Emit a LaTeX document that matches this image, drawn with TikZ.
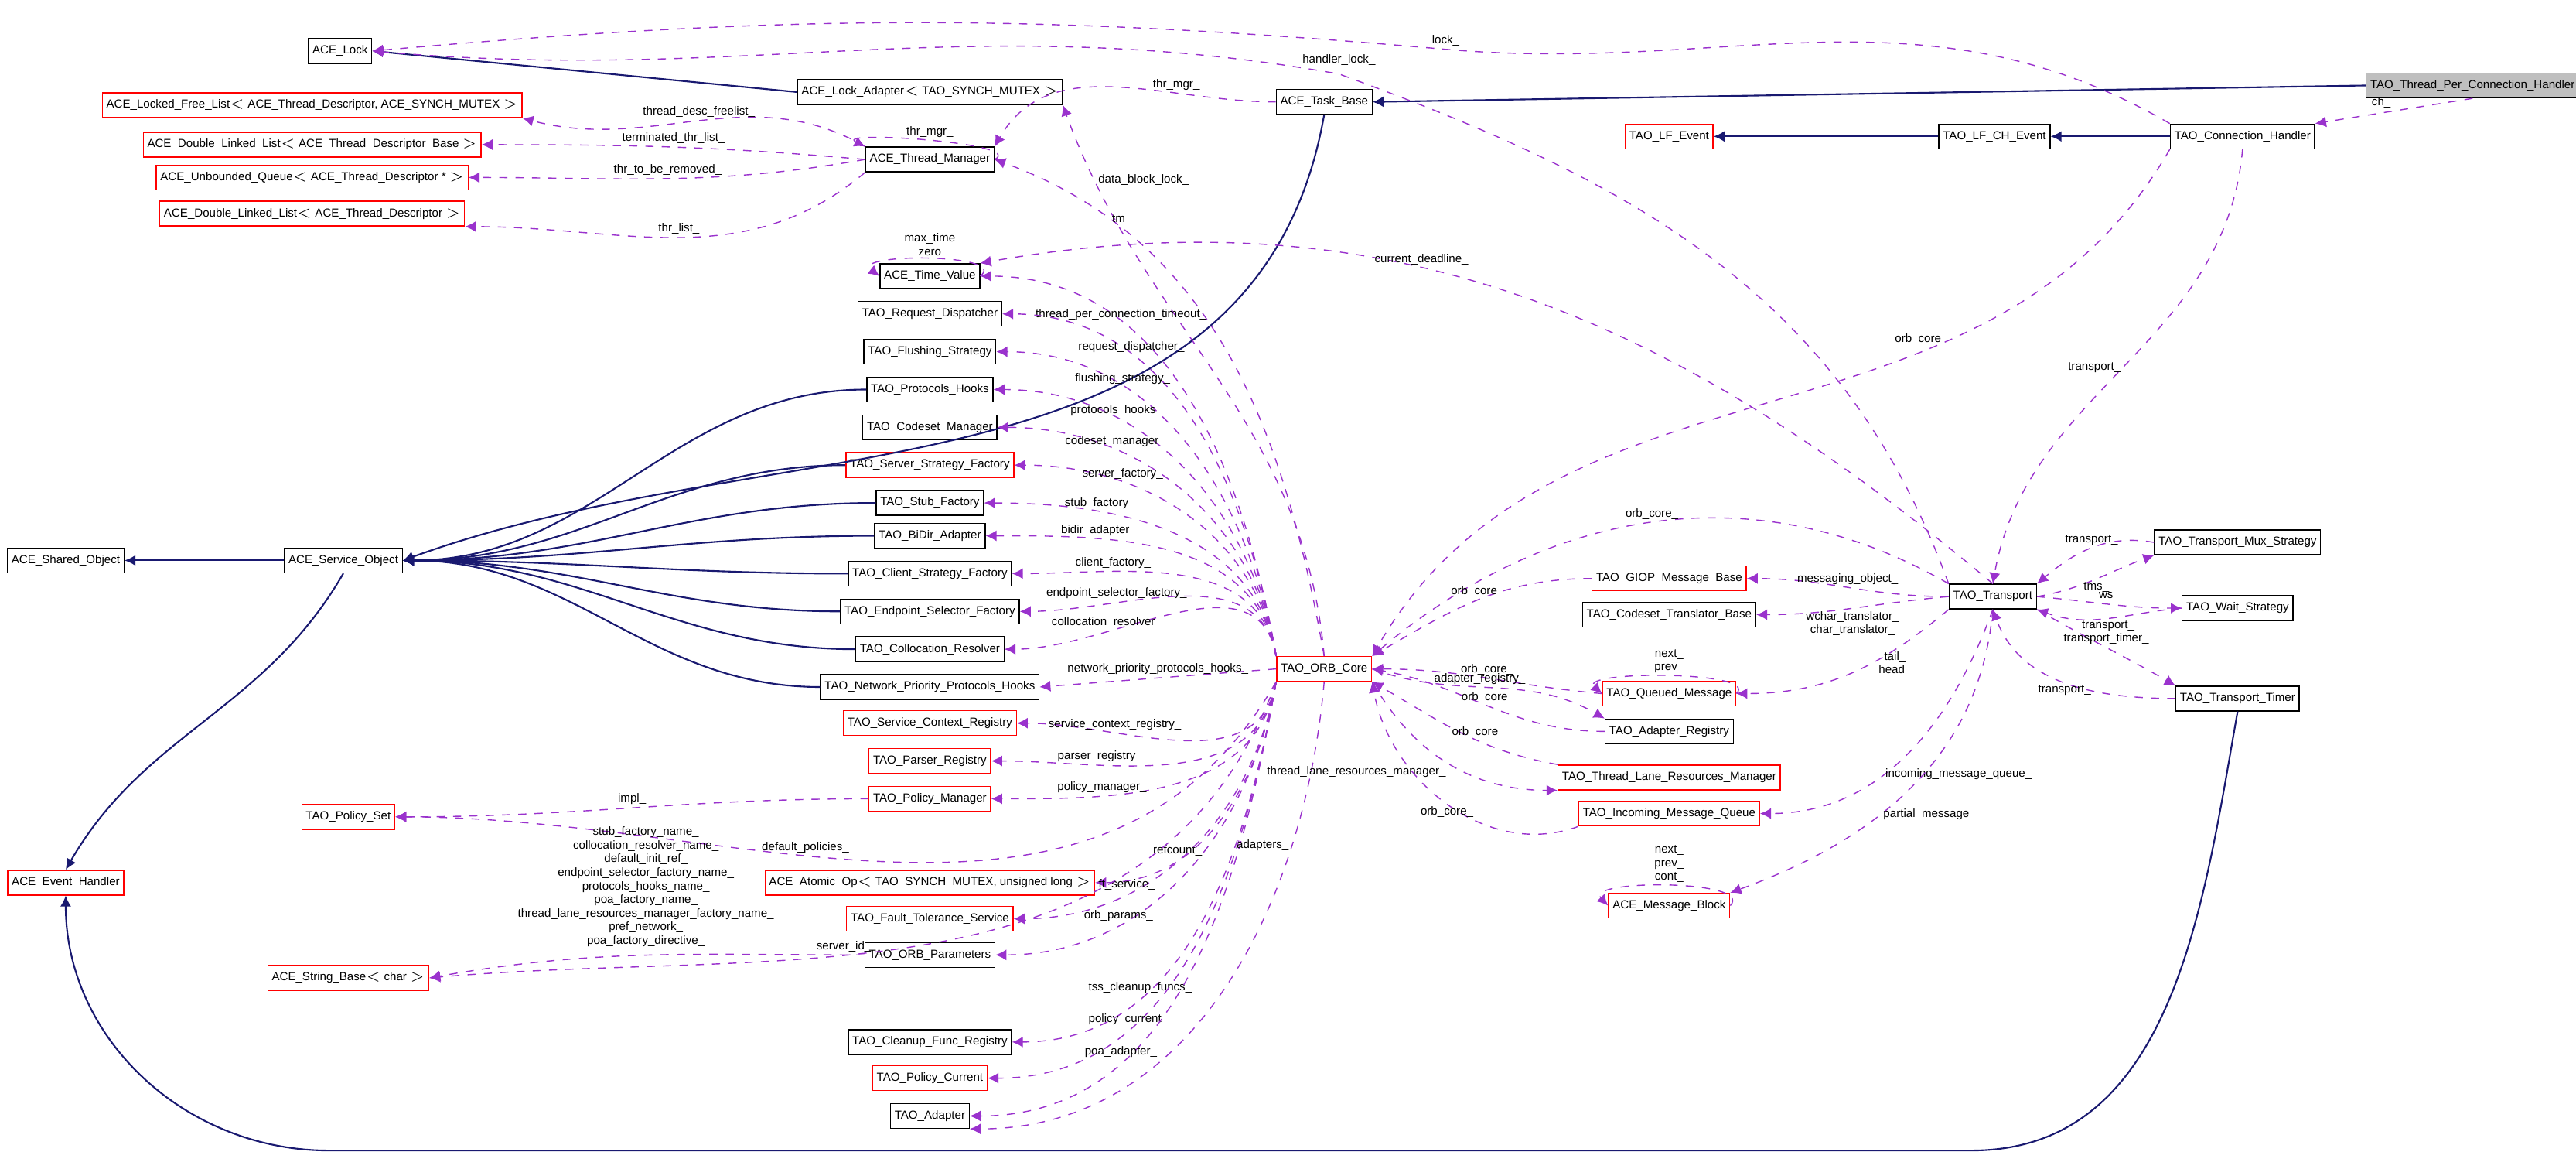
\documentclass[tikz,border=0pt]{standalone}
\usepackage{fontspec}
\setmainfont{Liberation Sans}
\usetikzlibrary{arrows.meta}
\definecolor{inh}{HTML}{191970}
\definecolor{usecol}{HTML}{9A32CD}
\tikzset{
  cls/.style={draw=black, fill=white, inner sep=1.5pt, minimum height=0.32cm, font=\fontsize{4.3}{5}\selectfont},
  redcls/.style={cls, draw=red},
  inherit/.style={draw=inh, -{Latex[length=4pt,width=4pt]}, semithick},
  uses/.style={draw=usecol, dashed, -{Latex[length=4pt,width=4pt]}},
  lbl/.style={font=\fontsize{4.3}{5}\selectfont, align=center, inner sep=1pt, fill=none}
}
\begin{document}
\begin{tikzpicture}[x=0.02124cm, y=-0.02124cm]
\useasboundingbox (0,0) rectangle (1568,711);
% top row
\node[cls, fill=black!25] (tpch) at (1505,52) {TAO\_Thread\_Per\_Connection\_Handler};
\node[cls] (taskbase) at (806,62) {ACE\_Task\_Base};
\node[cls] (lock) at (207,31) {ACE\_Lock};
\node[cls] (lockad) at (566,56) {ACE\_Lock\_Adapter$<$ TAO\_SYNCH\_MUTEX $>$};
\node[redcls] (lfl) at (190,64) {ACE\_Locked\_Free\_List$<$ ACE\_Thread\_Descriptor, ACE\_SYNCH\_MUTEX $>$};
\node[redcls] (dllb) at (190,88) {ACE\_Double\_Linked\_List$<$ ACE\_Thread\_Descriptor\_Base $>$};
\node[redcls] (uq) at (190,108) {ACE\_Unbounded\_Queue$<$ ACE\_Thread\_Descriptor * $>$};
\node[redcls] (dll) at (190,130) {ACE\_Double\_Linked\_List$<$ ACE\_Thread\_Descriptor $>$};
\node[cls] (thrmgr) at (566,97) {ACE\_Thread\_Manager};
\node[redcls] (lfev) at (1016,83) {TAO\_LF\_Event};
\node[cls] (lfch) at (1214,83) {TAO\_LF\_CH\_Event};
\node[cls] (conn) at (1365,83) {TAO\_Connection\_Handler};
% middle column
\node[cls] (timev) at (566,168) {ACE\_Time\_Value};
\node[cls] (reqd) at (566,191) {TAO\_Request\_Dispatcher};
\node[cls] (flush) at (566,214) {TAO\_Flushing\_Strategy};
\node[cls] (phooks) at (566,237) {TAO\_Protocols\_Hooks};
\node[cls] (codeset) at (566,260) {TAO\_Codeset\_Manager};
\node[redcls] (ssf) at (566,283) {TAO\_Server\_Strategy\_Factory};
\node[cls] (stub) at (566,306) {TAO\_Stub\_Factory};
\node[cls] (bidir) at (566,326) {TAO\_BiDir\_Adapter};
\node[cls] (csf) at (566,349) {TAO\_Client\_Strategy\_Factory};
\node[cls] (esf) at (566,372) {TAO\_Endpoint\_Selector\_Factory};
\node[cls] (coll) at (566,395) {TAO\_Collocation\_Resolver};
\node[cls] (nphooks) at (566,418) {TAO\_Network\_Priority\_Protocols\_Hooks};
\node[redcls] (scr) at (566,440) {TAO\_Service\_Context\_Registry};
\node[redcls] (parser) at (566,463) {TAO\_Parser\_Registry};
\node[redcls] (polmgr) at (566,486) {TAO\_Policy\_Manager};
\node[redcls] (atomic) at (566,537) {ACE\_Atomic\_Op$<$ TAO\_SYNCH\_MUTEX, unsigned long $>$};
\node[redcls] (ft) at (566,559) {TAO\_Fault\_Tolerance\_Service};
\node[cls] (orbp) at (566,581) {TAO\_ORB\_Parameters};
\node[cls] (cleanup) at (566,634) {TAO\_Cleanup\_Func\_Registry};
\node[redcls] (polcur) at (566,656) {TAO\_Policy\_Current};
\node[cls] (adapter) at (566,679) {TAO\_Adapter};
% left column
\node[redcls] (polset) at (212,497) {TAO\_Policy\_Set};
\node[redcls] (strb) at (212,595) {ACE\_String\_Base$<$ char $>$};
\node[cls] (shared) at (40,341) {ACE\_Shared\_Object};
\node[cls] (svcobj) at (209,341) {ACE\_Service\_Object};
\node[redcls] (evh) at (40,537) {ACE\_Event\_Handler};
% core and right part
\node[redcls] (core) at (806,407) {TAO\_ORB\_Core};
\node[redcls] (giop) at (1016,352) {TAO\_GIOP\_Message\_Base};
\node[cls] (cstb) at (1016,374) {TAO\_Codeset\_Translator\_Base};
\node[redcls] (qmsg) at (1016,422) {TAO\_Queued\_Message};
\node[cls] (areg) at (1016,445) {TAO\_Adapter\_Registry};
\node[redcls] (tlrm) at (1016,473) {TAO\_Thread\_Lane\_Resources\_Manager};
\node[redcls] (imq) at (1016,495) {TAO\_Incoming\_Message\_Queue};
\node[redcls] (mblk) at (1016,551) {ACE\_Message\_Block};
\node[cls] (trans) at (1213,363) {TAO\_Transport};
\node[cls] (tms) at (1362,330) {TAO\_Transport\_Mux\_Strategy};
\node[cls] (wait) at (1362,370) {TAO\_Wait\_Strategy};
\node[cls] (timer) at (1362,425) {TAO\_Transport\_Timer};
\coordinate (lockbend) at (880,30);
\coordinate (hlockbend) at (815,45);

% inheritance
\draw[inherit] (tpch.west) -- (taskbase.east);
\draw[inherit] (lockad.west) -- (lock.east);
\draw[inherit] (taskbase.south) to[out=260,in=20] (svcobj.east);
\foreach \c in {phooks,ssf,stub,bidir,csf,esf,coll,nphooks}
  \draw[inherit] (\c.west) to[out=180,in=0] (svcobj.east);
\draw[inherit] (svcobj.west) -- (shared.east);
\draw[inherit] (svcobj.south) to[out=240,in=60] (evh.north);
\draw[inherit] (lfch.west) -- (lfev.east);
\draw[inherit] (conn.west) -- (lfch.east);
\draw[inherit] (timer.south) to[out=260,in=0] (1200,700) -- (200,700) to[out=180,in=270] (evh.south);

% usage: top
\draw[uses] (tpch.south) -- node[lbl, above left] {ch\_} (conn.north east);
\draw[uses] (conn.north west) to[out=150,in=-5] (lockbend) node[lbl, above] {lock\_} to[out=175,in=5] (lock.east);
\draw[uses] (trans.north west) to[out=110,in=-20] (hlockbend) node[lbl, above=2pt] {handler\_lock\_} to[out=170,in=-5] (lock.east);
\draw[uses] (core.north) to[out=95,in=-70] node[lbl, pos=0.88, right] {data\_block\_lock\_} (lockad.south east);
\draw[uses] (taskbase.west) to[out=180,in=60] node[lbl, pos=0.3, above] {thr\_mgr\_} (thrmgr.north east);
\draw[uses] (thrmgr.east) .. controls +(20,-10) and +(-20,-10) .. node[lbl, above] {thr\_mgr\_} (thrmgr.north west);
\draw[uses] (thrmgr.north west) to[out=150,in=-15] node[lbl, pos=0.5, above] {thread\_desc\_freelist\_} (lfl.south east);
\draw[uses] (thrmgr.west) to[out=175,in=0] node[lbl, pos=0.5, above] {terminated\_thr\_list\_} (dllb.east);
\draw[uses] (thrmgr.west) to[out=190,in=0] node[lbl, pos=0.5, above] {thr\_to\_be\_removed\_} (uq.east);
\draw[uses] (thrmgr.south west) to[out=220,in=0] node[lbl, pos=0.5, above] {thr\_list\_} (dll.south east);
\draw[uses] (core.north) to[out=100,in=-20] node[lbl, pos=0.8, right] {tm\_} (thrmgr.east);
\draw[uses] (timev.east) .. controls +(18,-14) and +(-18,-14) .. node[lbl, above] {max\_time\\zero} (timev.west);
\draw[uses] (trans.north) to[out=140,in=10] node[lbl, pos=0.6, above] {current\_deadline\_} (timev.north east);

% usage: ORB core members
\foreach \t/\l in {timev/thread\_per\_connection\_timeout\_, reqd/request\_dispatcher\_, flush/flushing\_strategy\_,
  phooks/protocols\_hooks\_, codeset/codeset\_manager\_, ssf/server\_factory\_, stub/stub\_factory\_,
  bidir/bidir\_adapter\_, csf/client\_factory\_, esf/endpoint\_selector\_factory\_, coll/collocation\_resolver\_}
  \draw[uses] (core.north west) to[out=100,in=0] node[lbl, pos=0.7, above] {\l} (\t.east);
\draw[uses] (core.west) -- node[lbl, above] {network\_priority\_protocols\_hooks\_} (nphooks.east);
\foreach \t/\l in {scr/service\_context\_registry\_, parser/parser\_registry\_, polmgr/policy\_manager\_,
  atomic/refcount\_, ft/ft\_service\_, orbp/orb\_params\_, cleanup/tss\_cleanup\_funcs\_,
  polcur/policy\_current\_, adapter/poa\_adapter\_}
  \draw[uses] (core.south west) to[out=260,in=0] node[lbl, pos=0.7, above] {\l} (\t.east);
\draw[uses] (core.south) to[out=265,in=0] node[lbl, pos=0.25, left] {adapters\_} (adapter.south east);
\draw[uses] (core.south west) to[out=240,in=0] node[lbl, pos=0.6, above] {default\_policies\_} (polset.east);
\draw[uses] (core.south west) to[out=250,in=5] node[lbl, pos=0.6, above] {server\_id\_} (strb.east);
\draw[uses] (polmgr.west) to[out=180,in=0] node[lbl, pos=0.5, above] {impl\_} (polset.east);
\draw[uses] (orbp.west) to[out=180,in=10] node[lbl, pos=0.5, above=2pt] {stub\_factory\_name\_\\collocation\_resolver\_name\_\\default\_init\_ref\_\\endpoint\_selector\_factory\_name\_\\protocols\_hooks\_name\_\\poa\_factory\_name\_\\thread\_lane\_resources\_manager\_factory\_name\_\\pref\_network\_\\poa\_factory\_directive\_} (strb.east);

% usage: right side
\draw[uses] (conn.south west) to[out=240,in=60] node[lbl, pos=0.3, left] {orb\_core\_} (core.north east);
\draw[uses] (conn.south) to[out=265,in=80] node[lbl, pos=0.5, left] {transport\_} (trans.north);
\draw[uses] (trans.north west) to[out=150,in=40] node[lbl, pos=0.5, above] {orb\_core\_} (core.north east);
\draw[uses] (giop.west) to[out=180,in=30] node[lbl, pos=0.5, above] {orb\_core\_} (core.north east);
\draw[uses] (trans.west) to[out=180,in=0] node[lbl, pos=0.5, above] {messaging\_object\_} (giop.east);
\draw[uses] (trans.west) to[out=185,in=0] node[lbl, pos=0.5, below] {wchar\_translator\_\\char\_translator\_} (cstb.east);
\draw[uses] (trans.south west) to[out=220,in=0] node[lbl, pos=0.4, right=2pt] {tail\_\\head\_} (qmsg.east);
\draw[uses] (qmsg.east) .. controls +(15,-14) and +(-15,-14) .. node[lbl, above] {next\_\\prev\_} (qmsg.west);
\draw[uses] (qmsg.west) to[out=175,in=0] node[lbl, pos=0.5, above] {orb\_core\_} (core.east);
\draw[uses] (core.east) to[out=-20,in=150] node[lbl, pos=0.45, above] {adapter\_registry\_} (areg.north west);
\draw[uses] (areg.west) to[out=180,in=-10] node[lbl, pos=0.5, above] {orb\_core\_} (core.east);
\draw[uses] (core.south east) to[out=-60,in=180] node[lbl, pos=0.5, below left] {thread\_lane\_resources\_manager\_} (tlrm.south west);
\draw[uses] (tlrm.north west) to[out=170,in=-30] node[lbl, pos=0.4, above] {orb\_core\_} (core.south east);
\draw[uses] (imq.south west) to[out=200,in=-80] node[lbl, pos=0.5, below] {orb\_core\_} (core.south east);
\draw[uses] (trans.south) to[out=250,in=0] node[lbl, pos=0.6, right] {incoming\_message\_queue\_} (imq.east);
\draw[uses] (trans.south) to[out=265,in=20] node[lbl, pos=0.6, right] {partial\_message\_} (mblk.north east);
\draw[uses] (mblk.east) .. controls +(15,-16) and +(-15,-16) .. node[lbl, above] {next\_\\prev\_\\cont\_} (mblk.west);
\draw[uses] (tms.west) to[out=170,in=40] node[lbl, pos=0.5, above] {transport\_} (trans.north east);
\draw[uses] (trans.east) to[out=10,in=200] node[lbl, pos=0.5, below] {tms\_} (tms.south west);
\draw[uses] (trans.east) to[out=-5,in=180] node[lbl, pos=0.5, above] {ws\_} (wait.west);
\draw[uses] (wait.west) to[out=185,in=-20] node[lbl, pos=0.5, below] {transport\_} (trans.south east);
\draw[uses] (trans.south east) to[out=-30,in=150] node[lbl, pos=0.5, above] {transport\_timer\_} (timer.north west);
\draw[uses] (timer.west) to[out=180,in=-70] node[lbl, pos=0.5, below] {transport\_} (trans.south);
\end{tikzpicture}
\end{document}
